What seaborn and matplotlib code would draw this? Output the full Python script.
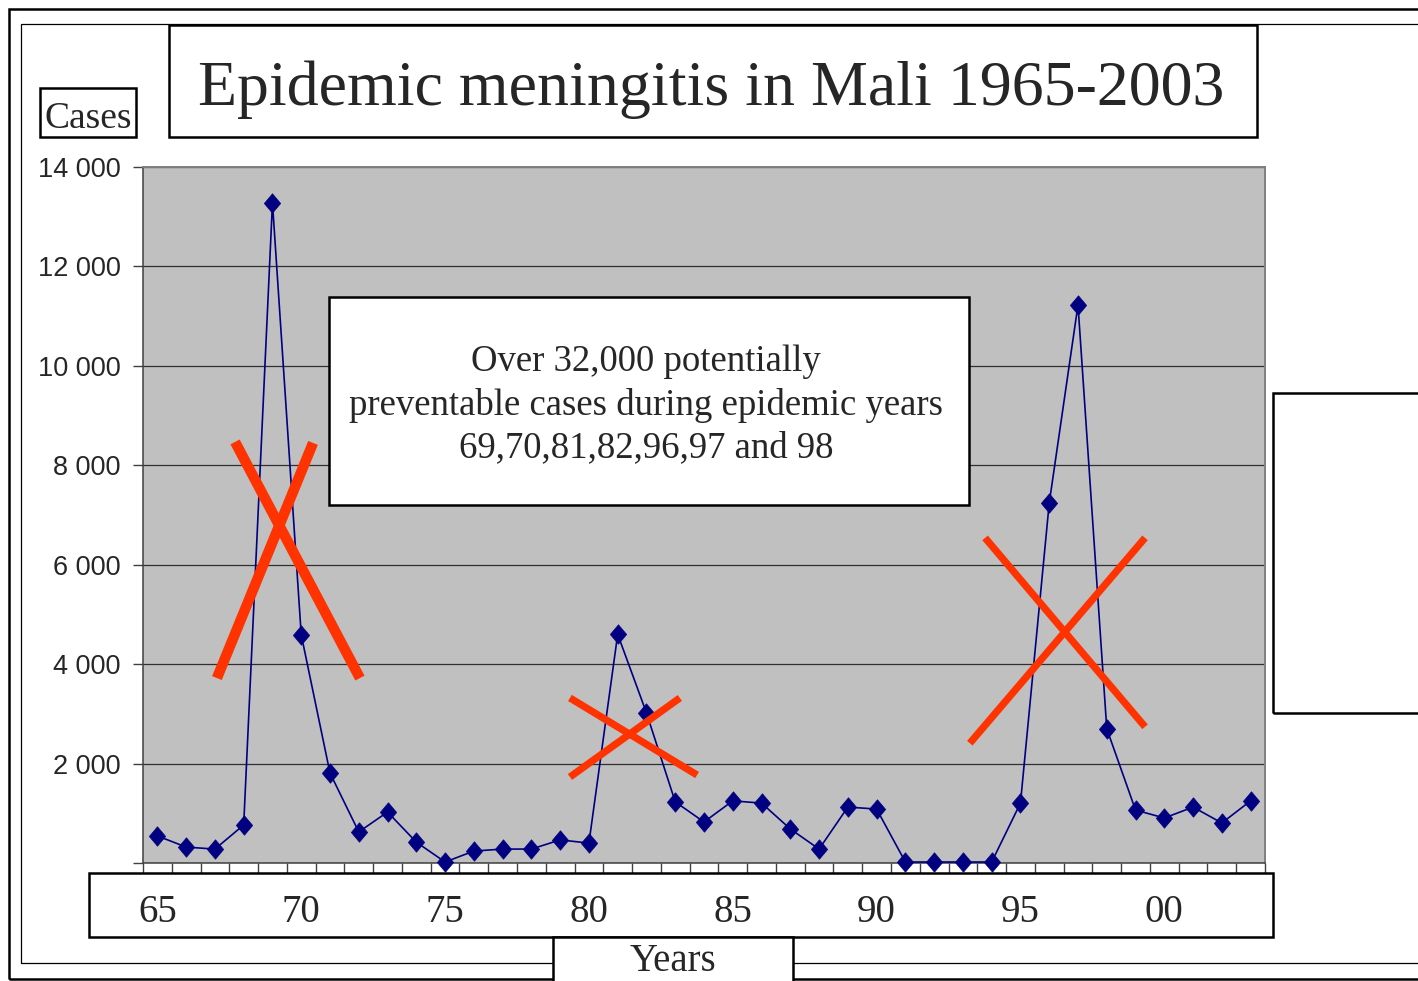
import matplotlib
matplotlib.use("Agg")
import matplotlib.pyplot as plt
import numpy as np
import pandas as pd
import seaborn as sns
from matplotlib import font_manager
from matplotlib.patches import Rectangle
from matplotlib.path import Path
from matplotlib.ticker import FuncFormatter

# data
years = list(range(1965, 2004))
cases = [
    545, 320, 280, 765, 13280, 4590, 1810, 625, 1025, 420,
    20, 240, 280, 280, 465, 400, 4600, 3020, 1230, 825,
    1250, 1205, 685, 280, 1125, 1085, 20, 20, 20, 20,
    1205, 7240, 11225, 2700, 1065, 905, 1125, 805, 1250,
]
tick_years = [1965, 1970, 1975, 1980, 1985, 1990, 1995, 2000]
tick_labels = ["65", "70", "75", "80", "85", "90", "95", "00"]
y_ticks = [0, 2000, 4000, 6000, 8000, 10000, 12000, 14000]

# red crosses drawn over the epidemic peaks (year, cases) pairs
cross_x = [
    [1967.70, 1972.04], [1967.07, 1970.41],
    [1979.34, 1983.76], [1979.34, 1983.16],
    [1993.77, 1999.33], [1993.24, 1999.33],
]
cross_y = [
    [8470, 3720], [3720, 8450],
    [3320, 1770], [1730, 3320],
    [6540, 2740], [2410, 6540],
]
cross_width = [7.5, 7.5, 5.2, 5.2, 5.2, 5.2]

title = "Epidemic meningitis in Mali 1965-2003"
note = "Over 32,000 potentially\npreventable cases during epidemic years\n69,70,81,82,96,97 and 98"

W, H = 1418, 981


def has_font(name):
    try:
        font_manager.findfont(font_manager.FontProperties(family=name), fallback_to_default=False)
        return True
    except ValueError:
        return False


serif = "Liberation Serif"
if has_font("Liberation Sans Narrow"):
    narrow, ysize = "Liberation Sans Narrow", 23
else:
    narrow, ysize = "Liberation Sans", 19.5

sns.set_style("white")
plt.rcParams["font.family"] = [serif, "DejaVu Serif"]

fig = plt.figure(figsize=(W / 100, H / 100), dpi=100)


def box(x0, y0, x1, y1, lw=1.8, fill=False, z=2):
    fig.add_artist(Rectangle((x0 / W, 1 - y1 / H), (x1 - x0) / W, (y1 - y0) / H,
                             transform=fig.transFigure, facecolor="white" if fill else "none",
                             fill=fill, edgecolor="black", linewidth=lw, zorder=z))


ax = fig.add_axes([143 / W, 1 - 863 / H, (1265 - 143) / W, (863 - 167) / H])
ax.set_facecolor("#c0c0c0")

df = pd.DataFrame({"year": years, "cases": cases})
diamond = Path([(-0.42, 0), (0, 0.5), (0.42, 0), (0, -0.5), (-0.42, 0)],
               [Path.MOVETO, Path.LINETO, Path.LINETO, Path.LINETO, Path.CLOSEPOLY])
sns.lineplot(data=df, x="year", y="cases", ax=ax, color="#000080", linewidth=1.2,
             marker=diamond, markersize=14, markeredgecolor="#000080",
             markeredgewidth=0.5, clip_on=False, zorder=3)

for xs, ys, w in zip(cross_x, cross_y, cross_width):
    ax.plot(xs, ys, color="#ff3300", linewidth=w, solid_capstyle="butt", zorder=5)

ax.set_xlim(years[0] - 0.5, years[-1] + 0.5)
ax.set_ylim(0, 14000)
ax.set_xlabel("")
ax.set_ylabel("")

ax.set_yticks(y_ticks)
ax.yaxis.set_major_formatter(FuncFormatter(lambda v, p: "" if v == 0 else f"{int(v):,}".replace(",", " ")))
for lab in ax.get_yticklabels():
    lab.set_family(narrow)
ax.tick_params(axis="y", length=7.2, width=1, color="#404040", pad=9, labelsize=ysize, left=True)

ax.set_xticks(tick_years, labels=tick_labels)
ax.set_xticks(np.arange(years[0] - 0.5, years[-1] + 1), minor=True)
ax.tick_params(axis="x", which="major", length=0, pad=22, labelsize=28)
ax.tick_params(axis="x", which="minor", length=7.2, width=1, color="#404040", bottom=True)

ax.set_axisbelow(True)
ax.yaxis.grid(True, color="#303030", linewidth=0.9)
ax.xaxis.grid(False)
for side in ["left", "bottom"]:
    ax.spines[side].set_color("#404040")
    ax.spines[side].set_linewidth(1.1)
for side in ["top", "right"]:
    ax.spines[side].set_color("#808080")
    ax.spines[side].set_linewidth(1.4)

# frames and text boxes around the chart
box(9, 9, 1460, 979, lw=1.8, z=1)
box(21, 24, 1460, 963, lw=0.9, z=1)
box(169, 25, 1257, 137)
box(40, 88, 136, 137)
box(1273, 393, 1460, 713)
box(89, 873, 1273, 937)
box(553, 937, 793, 1000, fill=True, z=3)
box(329, 297, 969, 505, lw=1.8, fill=True, z=3)

fig.text(711 / W, 1 - 105 / H, title, ha="center", va="baseline", fontsize=46, zorder=4)
fig.text(88 / W, 1 - 128 / H, "Cases", ha="center", va="baseline", fontsize=27, zorder=4)
fig.text(673 / W, 1 - 971 / H, "Years", ha="center", va="baseline", fontsize=28, zorder=4)
fig.text(646 / W, 1 - 405 / H, note, ha="center", va="center", multialignment="center",
         fontsize=26.5, linespacing=1.3, zorder=4)

fig.savefig("out.png", dpi=100, facecolor="white")
